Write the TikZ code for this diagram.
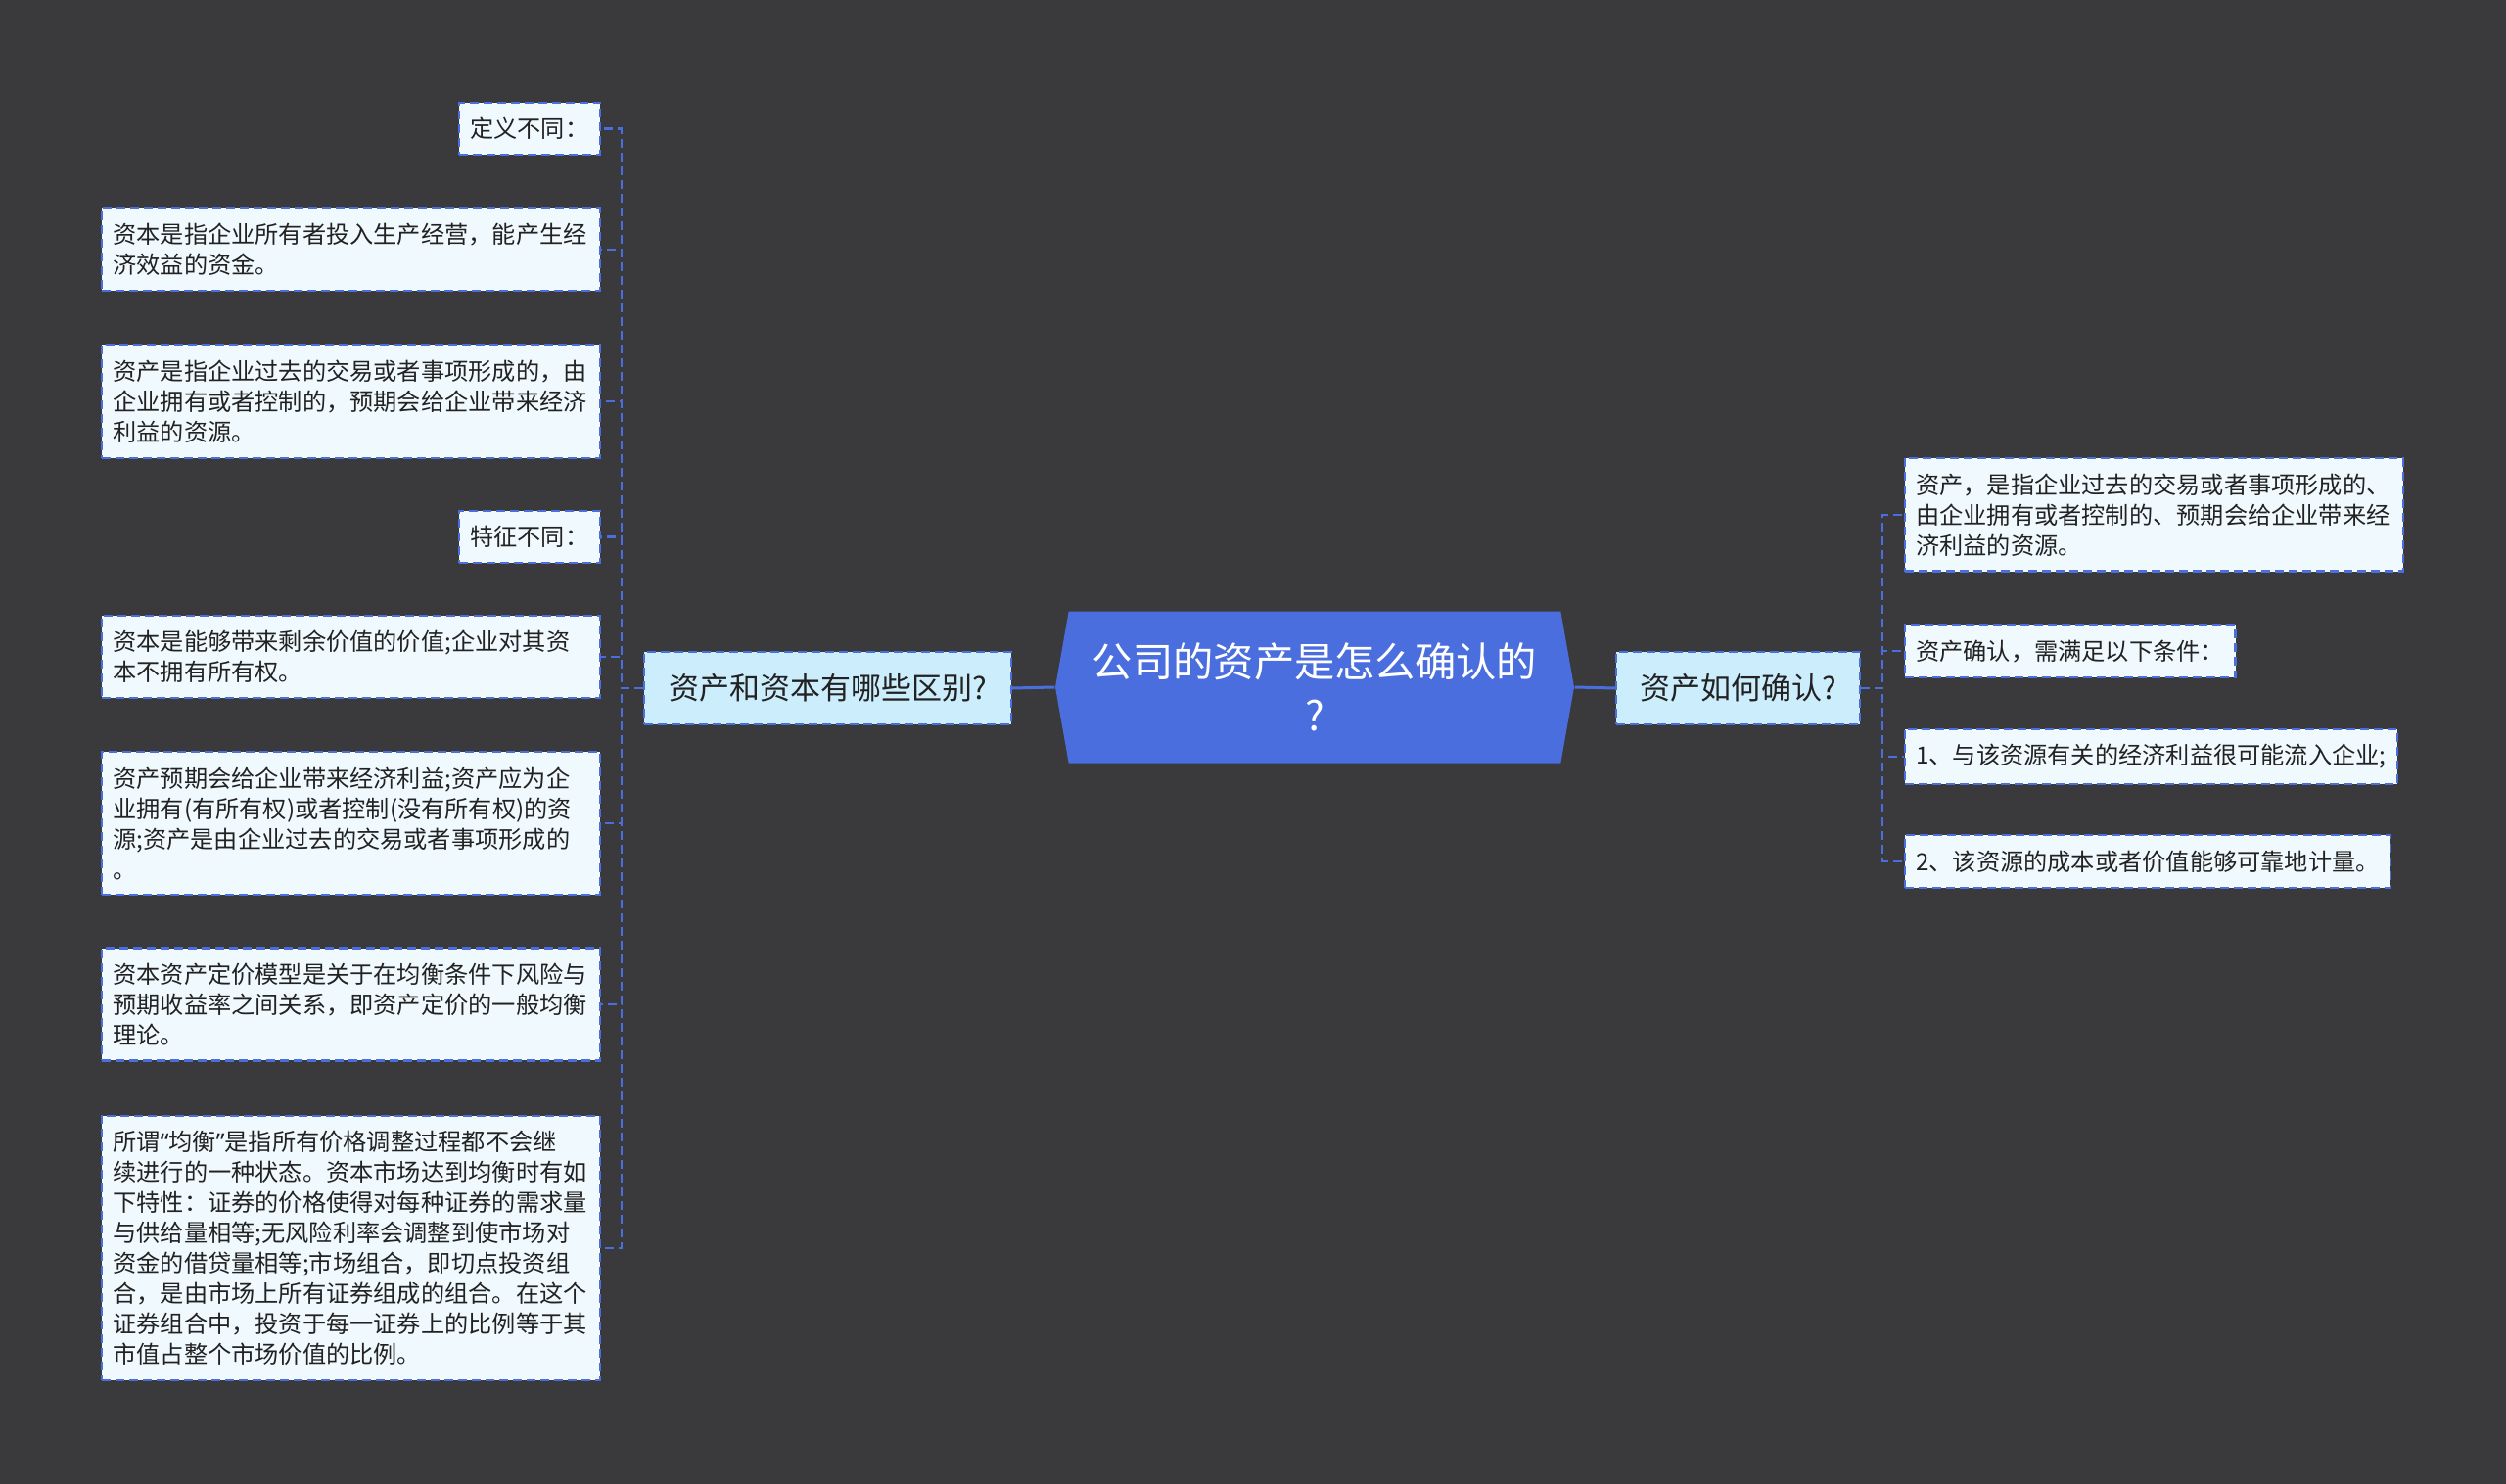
\documentclass[tikz,border=0pt]{standalone}
\usepackage{fontspec}
\setmainfont{Noto Sans CJK SC}
\newfontfamily\quotefont{Noto Sans}
\usetikzlibrary{shapes.symbols, positioning}
\definecolor{bgdark}{RGB}{58, 57, 60}
\definecolor{rootblue}{RGB}{74, 110, 222}
\definecolor{branchfill}{RGB}{204, 237, 252}
\definecolor{leaffill}{RGB}{240, 250, 254}
\definecolor{inktext}{RGB}{34, 34, 34}

\begin{document}
\begin{tikzpicture}[
  root/.style={signal, signal to=west and east, signal pointer angle=160, fill=rootblue, text=white,
    font=\fontsize{11.75pt}{15.8pt}\selectfont, align=center, minimum width=5.30cm, minimum height=1.55cm, inner sep=0pt},
  branchbox/.style={draw=rootblue, fill=branchfill, line width=0.022cm, dash pattern=on 0.09cm off 0.05cm,
    text=inktext, font=\fontsize{8.82pt}{10pt}\selectfont, minimum height=0.74cm, inner xsep=0.2cm},
  leafbox/.style={draw=rootblue, fill=leaffill, line width=0.022cm, dash pattern=on 0.09cm off 0.05cm,
    text=inktext, font=\fontsize{6.89pt}{8.82pt}\selectfont, inner xsep=0.115cm, inner ysep=0.155cm, align=left},
  wideleaf/.style={leafbox, text width=4.86cm},
  twig/.style={draw=rootblue, line width=0.022cm, dash pattern=on 0.09cm off 0.05cm},
]

% 背景
\useasboundingbox (0,0) rectangle (25.6,-15.16);
\fill[bgdark] (0,0) rectangle (25.6,-15.16);

% 中心主题
\node[root] (top) at (13.43,-7.02) {公司的资产是怎么确认的\\?};

% 二级主题
\node[branchbox, minimum width=3.75cm] (lq) at (8.455,-7.03) {资产和资本有哪些区别?};
\node[branchbox, minimum width=2.49cm] (rq) at (17.755,-7.03) {资产如何确认?};

\draw[rootblue, line width=0.03cm] (top.west) -- (lq.east);
\draw[rootblue, line width=0.03cm] (top.east) -- (rq.west);

% 左侧：资产和资本的区别
\node[leafbox, anchor=east] (d1) at (6.14,-1.315) {定义不同：};
\node[wideleaf, anchor=east] (d2) at (6.14,-2.547) {资本是指企业所有者投入生产经营，能产生经\\济效益的资金。};
\node[wideleaf, anchor=east] (d3) at (6.14,-4.10) {资产是指企业过去的交易或者事项形成的，由\\企业拥有或者控制的，预期会给企业带来经济\\利益的资源。};
\node[leafbox, anchor=east] (d4) at (6.14,-5.486) {特征不同：};
\node[wideleaf, anchor=east] (d5) at (6.14,-6.71) {资本是能够带来剩余价值的价值;企业对其资\\本不拥有所有权。};
\node[wideleaf, anchor=east] (d6) at (6.14,-8.41) {资产预期会给企业带来经济利益;资产应为企\\业拥有(有所有权)或者控制(没有所有权)的资\\源;资产是由企业过去的交易或者事项形成的\\。};
\node[wideleaf, anchor=east] (d7) at (6.14,-10.26) {资本资产定价模型是关于在均衡条件下风险与\\预期收益率之间关系，即资产定价的一般均衡\\理论。};
\node[wideleaf, anchor=east] (d8) at (6.14,-12.75) {所谓{\quotefont “}均衡{\quotefont ”}是指所有价格调整过程都不会继\\续进行的一种状态。资本市场达到均衡时有如\\下特性：证券的价格使得对每种证券的需求量\\与供给量相等;无风险利率会调整到使市场对\\资金的借贷量相等;市场组合，即切点投资组\\合，是由市场上所有证券组成的组合。在这个\\证券组合中，投资于每一证券上的比例等于其\\市值占整个市场价值的比例。};

% 右侧：资产如何确认
\node[wideleaf, anchor=west] (c1) at (19.446,-5.258) {资产，是指企业过去的交易或者事项形成的、\\由企业拥有或者控制的、预期会给企业带来经\\济利益的资源。};
\node[leafbox, anchor=west] (c2) at (19.446,-6.653) {资产确认，需满足以下条件：};
\node[leafbox, anchor=west] (c3) at (19.446,-7.73) {1、与该资源有关的经济利益很可能流入企业;};
\node[leafbox, anchor=west] (c4) at (19.446,-8.80) {2、该资源的成本或者价值能够可靠地计量。};

% 连线
\coordinate (lx) at (6.35,0);
\coordinate (rx) at (19.23,0);
\foreach \i in {1,...,8}
  \draw[twig] (lq.west) -- (lq.west -| lx) |- (d\i.east);
\foreach \i in {1,...,4}
  \draw[twig] (rq.east) -- (rq.east -| rx) |- (c\i.west);

\end{tikzpicture}
\end{document}
